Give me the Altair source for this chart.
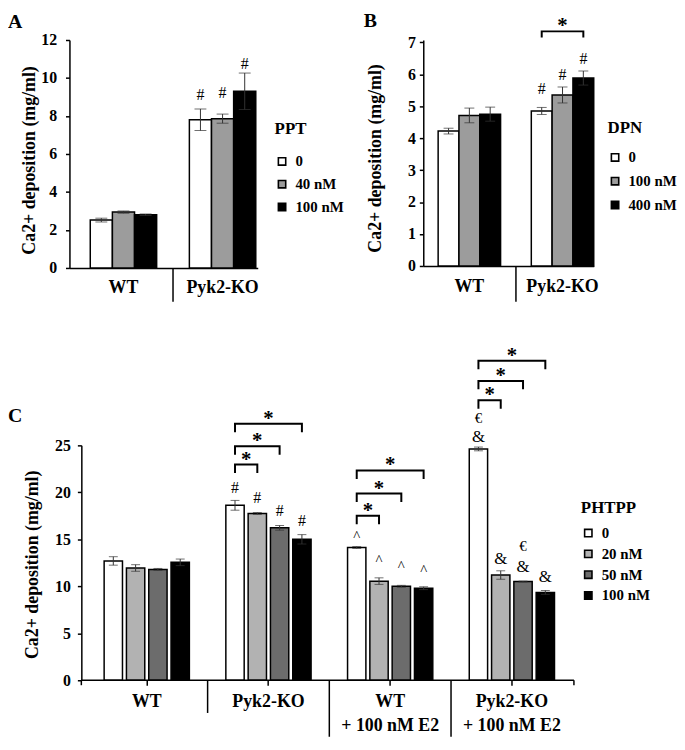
import altair as alt
import pandas as pd

FONT = "Liberation Serif"

# ---------------- Panel A (PPT) ----------------
a_groups = ["WT", "Pyk2-KO"]
a_series = ["0", "40 nM", "100 nM"]
a_mean = [2.52, 2.94, 2.80, 7.80, 7.86, 9.30]
a_err = [0.10, 0.06, 0.04, 0.57, 0.24, 0.96]
a_colors = ["#ffffff", "#9c9c9c", "#000000"]
a_yticks = [0, 2, 4, 6, 8, 10, 12]
a_sig_group = ["Pyk2-KO", "Pyk2-KO", "Pyk2-KO"]
a_sig_series = ["0", "40 nM", "100 nM"]
a_sig_text = ["#", "#", "#"]
a_sig_y = [9.10, 9.20, 10.75]

# ---------------- Panel B (DPN) ----------------
b_groups = ["WT", "Pyk2-KO"]
b_series = ["0", "100 nM", "400 nM"]
b_mean = [4.22, 4.71, 4.75, 4.85, 5.35, 5.88]
b_err = [0.09, 0.23, 0.22, 0.11, 0.25, 0.22]
b_colors = ["#ffffff", "#9c9c9c", "#000000"]
b_yticks = [0, 1, 2, 3, 4, 5, 6, 7]
b_sig_group = ["Pyk2-KO", "Pyk2-KO", "Pyk2-KO"]
b_sig_series = ["0", "100 nM", "400 nM"]
b_sig_text = ["#", "#", "#"]
b_sig_y = [5.55, 5.98, 6.48]
b_br_group = ["Pyk2-KO"]
b_br_from = ["0"]
b_br_to = ["400 nM"]
b_br_y = [7.34]

# ---------------- Panel C (PHTPP) ----------------
c_groups = ["WT", "Pyk2-KO", "WT|+ 100 nM E2", "Pyk2-KO|+ 100 nM E2"]
c_series = ["0", "20 nM", "50 nM", "100 nM"]
c_mean = [12.70, 11.95, 11.80, 12.55,
          18.62, 17.75, 16.22, 15.00,
          14.13, 10.55, 10.00, 9.80,
          24.62, 11.20, 10.50, 9.35]
c_err = [0.45, 0.35, 0.10, 0.35,
         0.52, 0.10, 0.25, 0.50,
         0.10, 0.35, 0.10, 0.15,
         0.20, 0.45, 0.05, 0.20]
c_colors = ["#ffffff", "#b2b2b2", "#6c6c6c", "#000000"]
c_yticks = [0, 5, 10, 15, 20, 25]
c_sig_group = (["Pyk2-KO"] * 4 + ["WT|+ 100 nM E2"] * 4 + ["Pyk2-KO|+ 100 nM E2"] * 6)
c_sig_series = (["0", "20 nM", "50 nM", "100 nM"] * 2
                + ["0", "0", "20 nM", "50 nM", "50 nM", "100 nM"])
c_sig_text = ["#"] * 4 + ["^"] * 4 + ["&", "€", "&", "&", "€", "&"]
c_sig_y = [20.43, 19.44, 18.04, 16.98,
           15.40, 12.76, 12.16, 11.78,
           25.88, 27.88, 12.94, 12.06, 14.27, 11.00]
c_br_group = ["Pyk2-KO"] * 3 + ["WT|+ 100 nM E2"] * 3 + ["Pyk2-KO|+ 100 nM E2"] * 3
c_br_from = ["0"] * 9
c_br_to = ["20 nM", "50 nM", "100 nM"] * 3
c_br_y = [22.96, 24.90, 27.30, 17.50, 19.87, 22.33, 29.80, 31.86, 34.00]

SYM_STYLE = {"#": (16, "normal"), "^": (15, "normal"), "&": (17, "normal"),
             "€": (15, "normal")}
Y_TITLE = "Ca2+ deposition (mg/ml)"


def bar_table(groups, series, means, errs):
    rows = []
    for gi, g in enumerate(groups):
        for si, s in enumerate(series):
            k = gi * len(series) + si
            rows.append({"group": g, "series": s, "mean": means[k],
                         "lo": means[k] - errs[k], "hi": means[k] + errs[k]})
    return pd.DataFrame(rows)


def make_panel(cfg):
    groups, series = cfg["groups"], cfg["series"]
    n, S = len(groups), len(series)
    W, H = cfg["W"], cfg["H"]
    step, bw, s0 = cfg["step"], cfg["bw"], cfg["s0"]
    pI = 1 - bw / step
    pO = max(0.0, (W / step - n + pI) / 2)
    al = min(1.0, max(0.0, s0 / (W - step * (n - pI))))
    opi = cfg["opi"]
    step_o = bw / (S - opi)

    xs = alt.Scale(domain=groups, paddingInner=pI, paddingOuter=pO, align=al)
    xos = alt.Scale(domain=series, paddingInner=opi, paddingOuter=0)
    ys = alt.Scale(domain=[0, cfg["ytop"]], nice=False, zero=True)

    xaxis = alt.Axis(title=None, labelFont=FONT, labelFontSize=18, labelFontWeight="bold",
                     labelColor="black", labelAngle=0, labelPadding=cfg["xlp"],
                     ticks=cfg["xticks"], tickSize=cfg["xtick_size"], tickColor="black",
                     tickWidth=1.5, domain=cfg["xdomain"], domainColor="black",
                     domainWidth=1.5, labelExpr="split(datum.label, '|')",
                     labelLineHeight=25, labelBaseline="top", labelOverlap=False,
                     labelLimit=400, grid=False)
    yaxis = alt.Axis(values=cfg["yticks"], title=Y_TITLE,
                     titleFont=FONT, titleFontSize=18, titleFontWeight="bold",
                     titleColor="black", titleX=cfg["tx"], titleY=cfg["ty"],
                     titleAngle=270, titleAlign="center", titleBaseline="middle",
                     labelFont=FONT, labelFontSize=16, labelFontWeight="bold",
                     labelColor="black", labelPadding=cfg["ylp"], labelOverlap=False,
                     tickSize=4, tickColor="black", tickWidth=1.5, domainColor="black",
                     domainWidth=1.5, grid=False, offset=cfg.get("yoff", 0))
    legend = alt.Legend(title=cfg["legend_title"], orient="none", legendX=cfg["lx"],
                        legendY=cfg["ly"], symbolType="square", symbolSize=55,
                        symbolStrokeColor="black", symbolStrokeWidth=1.6,
                        labelFont=FONT, labelFontSize=15, labelFontWeight="bold",
                        labelColor="black", titleFont=FONT, titleFontSize=17,
                        titleFontWeight="bold", titleColor="black",
                        rowPadding=cfg["rowpad"], titlePadding=cfg["titlepad"],
                        labelOffset=6, padding=0)

    # every layer shares the same axis definitions so the merged axes stay identical
    def X(**kw):
        return alt.X("group:N", scale=xs, sort=groups, axis=xaxis, title=None, **kw)

    def XO():
        return alt.XOffset("series:N", scale=xos, sort=series)

    def Y(field):
        return alt.Y(f"{field}:Q", scale=ys, axis=yaxis, title=Y_TITLE)

    df = bar_table(groups, series, cfg["mean"], cfg["err"])
    layers = []
    layers.append(alt.Chart(df).mark_bar(stroke="black", strokeWidth=1.5).encode(
        x=X(), xOffset=XO(), y=Y("mean"),
        color=alt.Color("series:N", scale=alt.Scale(domain=series, range=cfg["colors"]),
                        sort=series, legend=legend)))
    ecol = "#333333"
    layers.append(alt.Chart(df).mark_rule(color=ecol, strokeWidth=1).encode(
        x=X(), xOffset=XO(), y=Y("lo"), y2="hi:Q"))
    for f in ["lo", "hi"]:
        layers.append(alt.Chart(df).mark_tick(color=ecol, thickness=1, size=cfg["cap"]).encode(
            x=X(), xOffset=XO(), y=Y(f)))

    sig = pd.DataFrame({"group": cfg["sig_group"], "series": cfg["sig_series"],
                        "text": cfg["sig_text"], "y": cfg["sig_y"]})
    for sym in sorted(set(cfg["sig_text"])):
        fs, fw = SYM_STYLE[sym]
        layers.append(alt.Chart(sig[sig.text == sym]).mark_text(
            font=FONT, fontSize=fs, fontWeight=fw, fill="black", baseline="middle").encode(
            x=X(), xOffset=XO(), y=Y("y"), text="text:N"))

    if cfg.get("br_group"):
        rows = []
        stars = []
        for i, (g, a, b, yv) in enumerate(zip(cfg["br_group"], cfg["br_from"],
                                                cfg["br_to"], cfg["br_y"])):
            d = cfg["drop"]
            for k, (s, yy) in enumerate([(a, yv - d), (a, yv), (b, yv), (b, yv - d)]):
                rows.append({"bid": i, "pt": k, "group": g, "series": s, "y": yy})
            stars.append({"group": g, "series": a, "y": yv, "text": "*",
                          "span": series.index(b) - series.index(a)})
        bdf = pd.DataFrame(rows)
        sdf = pd.DataFrame(stars)
        layers.append(alt.Chart(bdf).mark_line(color="black", strokeWidth=2).encode(
            x=X(), xOffset=XO(), y=Y("y"), detail="bid:N", order="pt:Q"))
        for span in sorted(sdf.span.unique()):
            layers.append(alt.Chart(sdf[sdf.span == span]).mark_text(
                font=FONT, fontSize=21, fontWeight="bold", fill="black",
                baseline="alphabetic", dx=float(span * step_o / 2), dy=1).encode(
                x=X(), xOffset=XO(), y=Y("y"), text="text:N"))

    gap = step - bw
    for idxs, length in cfg["seps"]:
        sdf2 = pd.DataFrame({"group": [groups[i] for i in idxs]})
        layers.append(alt.Chart(sdf2).mark_rule(
            color="black", strokeWidth=1.5, xOffset=-gap / 2).encode(
            x=X(bandPosition=0), y=alt.value(H), y2=alt.value(H + length)))

    if cfg.get("xline"):
        x0, x1 = cfg["xline"]
        one = pd.DataFrame({"k": [0]})
        layers.append(alt.Chart(one).mark_rule(color="black", strokeWidth=1.5).encode(
            x=alt.value(x0), x2=alt.value(x1), y=alt.value(H)))
        for xe in (x0, x1):
            layers.append(alt.Chart(one).mark_rule(color="black", strokeWidth=1.5).encode(
                x=alt.value(xe), y=alt.value(H), y2=alt.value(H + cfg["xtick_size"])))

    ldf = pd.DataFrame({"t": [cfg["letter"]]})
    layers.append(alt.Chart(ldf).mark_text(
        font=FONT, fontSize=20, fontWeight="bold", fill="black", align="left",
        baseline="alphabetic").encode(
        x=alt.value(cfg["letter_x"]), y=alt.value(cfg["letter_y"]), text="t:N"))

    return alt.layer(*layers).properties(width=W, height=H)


panel_a = make_panel(dict(
    groups=a_groups, series=a_series, mean=a_mean, err=a_err, colors=a_colors,
    yticks=a_yticks, ytop=12, W=190, H=230, step=100, bw=67, s0=21, opi=0.0,
    cap=12, xlp=11, xticks=False, xtick_size=0, xdomain=True, tx=-40, ty=121, ylp=9,
    legend_title="PPT", lx=207, ly=82, rowpad=7, titlepad=16,
    sig_group=a_sig_group, sig_series=a_sig_series, sig_text=a_sig_text, sig_y=a_sig_y,
    seps=[([1], 34)], letter="A", letter_x=-62, letter_y=-12))

panel_b = make_panel(dict(
    groups=b_groups, series=b_series, mean=b_mean, err=b_err, colors=b_colors,
    yticks=b_yticks, ytop=7.07, W=172, H=228, step=94, bw=63, s0=15, opi=0.0,
    cap=10, xlp=12, xticks=False, xtick_size=0, xdomain=True, tx=-48, ty=119, ylp=4,
    legend_title="DPN", lx=186, ly=81, rowpad=8, titlepad=13,
    sig_group=b_sig_group, sig_series=b_sig_series, sig_text=b_sig_text, sig_y=b_sig_y,
    br_group=b_br_group, br_from=b_br_from, br_to=b_br_to, br_y=b_br_y, drop=0.19,
    seps=[([1], 36)], letter="B", letter_x=-60, letter_y=-13))

panel_c = make_panel(dict(
    groups=c_groups, series=c_series, mean=c_mean, err=c_err, colors=c_colors,
    yticks=c_yticks, ytop=25, W=509, H=237, step=122.8, bw=86, s0=35, opi=4 / 22.5,
    cap=9, xlp=7, xticks=True, xtick_size=5, xdomain=False, tx=-49, ty=120, ylp=7,
    yoff=-12, xline=(12, 509),
    legend_title="PHTPP", lx=516, ly=55, rowpad=5, titlepad=9,
    sig_group=c_sig_group, sig_series=c_sig_series, sig_text=c_sig_text, sig_y=c_sig_y,
    br_group=c_br_group, br_from=c_br_from, br_to=c_br_to, br_y=c_br_y, drop=0.9,
    seps=[([1], 33), ([2, 3], 57)], letter="C", letter_x=-62, letter_y=-24))

top = alt.hconcat(panel_a, panel_b, spacing=20).resolve_scale(
    color="independent", x="independent", y="independent", xOffset="independent")

chart = alt.concat(top, panel_c, columns=1, spacing=42).resolve_scale(
    color="independent", x="independent", y="independent", xOffset="independent"
).properties(padding={"left": 0, "top": 0, "right": 0, "bottom": 0}, background="white"
).configure(font=FONT).configure_view(stroke=None)

chart.save("out.html", embed_options={"renderer": "svg", "actions": False})
